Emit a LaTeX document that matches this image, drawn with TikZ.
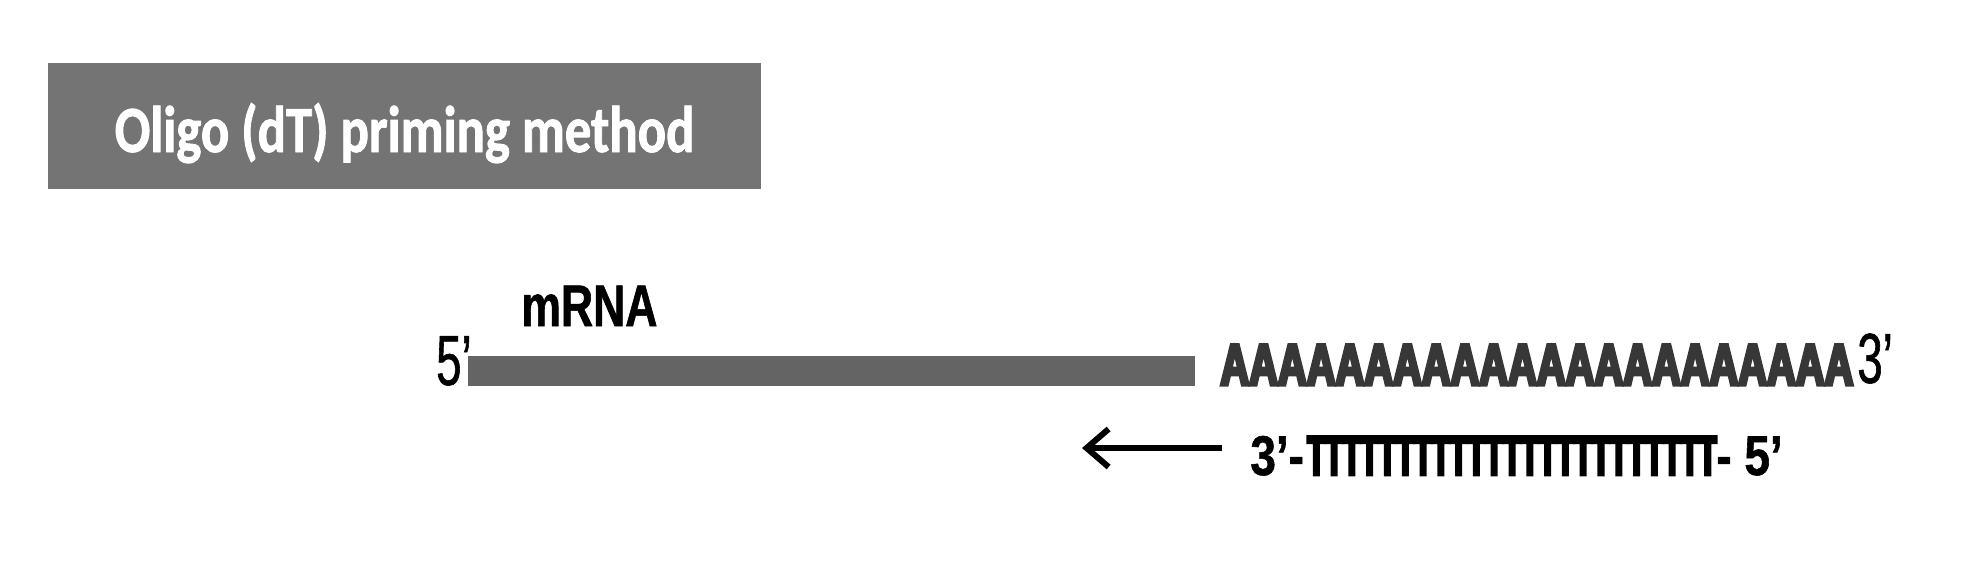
\documentclass[tikz,border=0pt]{standalone}
\usepackage{fontspec}
\setmainfont{Liberation Sans}
\newfontfamily\titlefont{Carlito}[FakeStretch=0.8, FakeBold=1.2]
\newfontfamily\narrowfont{Liberation Sans}[FakeStretch=0.64, FakeBold=0.8]
\newfontfamily\labelfont{Liberation Sans}[FakeStretch=0.76, FakeBold=1]
\newfontfamily\primefont{Liberation Sans}[FakeStretch=0.82, FakeBold=1]
\newfontfamily\polyafont{Liberation Sans}[FakeStretch=0.68, FakeBold=5.5]
\newfontfamily\combfont{Liberation Sans}[FakeStretch=0.52, FakeBold=5]
\usetikzlibrary{arrows.meta,positioning}
\definecolor{boxgray}{RGB}{116,116,116}
\definecolor{bargray}{RGB}{100,100,100}
\definecolor{tailgray}{RGB}{55,55,55}
\tikzset{titlestyle/.style = {rectangle, fill = boxgray, minimum width = 356.5pt, minimum height = 63pt, inner sep = 0pt, text height = 30pt, text depth = 4pt, text = white, font = \titlefont\bfseries\fontsize{33}{33}\selectfont},
	endstyle/.style = {inner sep = 0pt, font = \narrowfont\fontsize{35.5}{35.5}\selectfont},
	strandstyle/.style = {rectangle, fill = bargray, minimum width = 363.5pt, minimum height = 15pt, inner sep = 0pt},
	tailstyle/.style = {inner sep = 0pt, text = tailgray, font = \polyafont\bfseries\fontsize{29.3}{29.3}\selectfont},
	primerstyle/.style = {inner sep = 0pt, font = \primefont\bfseries\fontsize{28}{28}\selectfont},
	combstyle/.style = {inner sep = 0pt, font = \combfont\bfseries\fontsize{28}{28}\selectfont},
	extend/.style={-{Straight Barb[length=11pt, width=19pt, line width=3pt]}, line width = 3pt, shorten <=14pt}}

\begin{document}
\begin{tikzpicture}[x=0.5pt, y=-0.5pt]
 \useasboundingbox (0,0) rectangle (1979,584);

 \node (method) at (404.5,126) [titlestyle] {Oligo (dT) priming method};

 \node (five) at (472,385) [endstyle, anchor = base east] {5’};
 \node (mrna) at (831.5,371) [strandstyle] {};
 \node (name) at (521,326) [inner sep = 0pt, anchor = base west, font = \labelfont\bfseries\fontsize{29.3}{29.3}\selectfont] {mRNA};
 \node (polya) at (1220,385) [tailstyle, anchor = base west] {AAAAAAAAAAAAAAAAAAAAAA};
 \node (three) at (1857,383) [endstyle, anchor = base west] {3’};

 \node (prime3) at (1250,475) [primerstyle, anchor = base west] {3’-};
 \node (oligo) at (1307,475) [combstyle, anchor = base west] {TTTTTTTTTTTTTTTTTTTTTTT};
 \node (prime5) at (1716,475) [primerstyle, anchor = base west] {- 5’};

 \coordinate (extendtip) at (1082,448);
 \draw [extend] (prime3.west |- extendtip) -- (extendtip);

\end{tikzpicture}
\end{document}
